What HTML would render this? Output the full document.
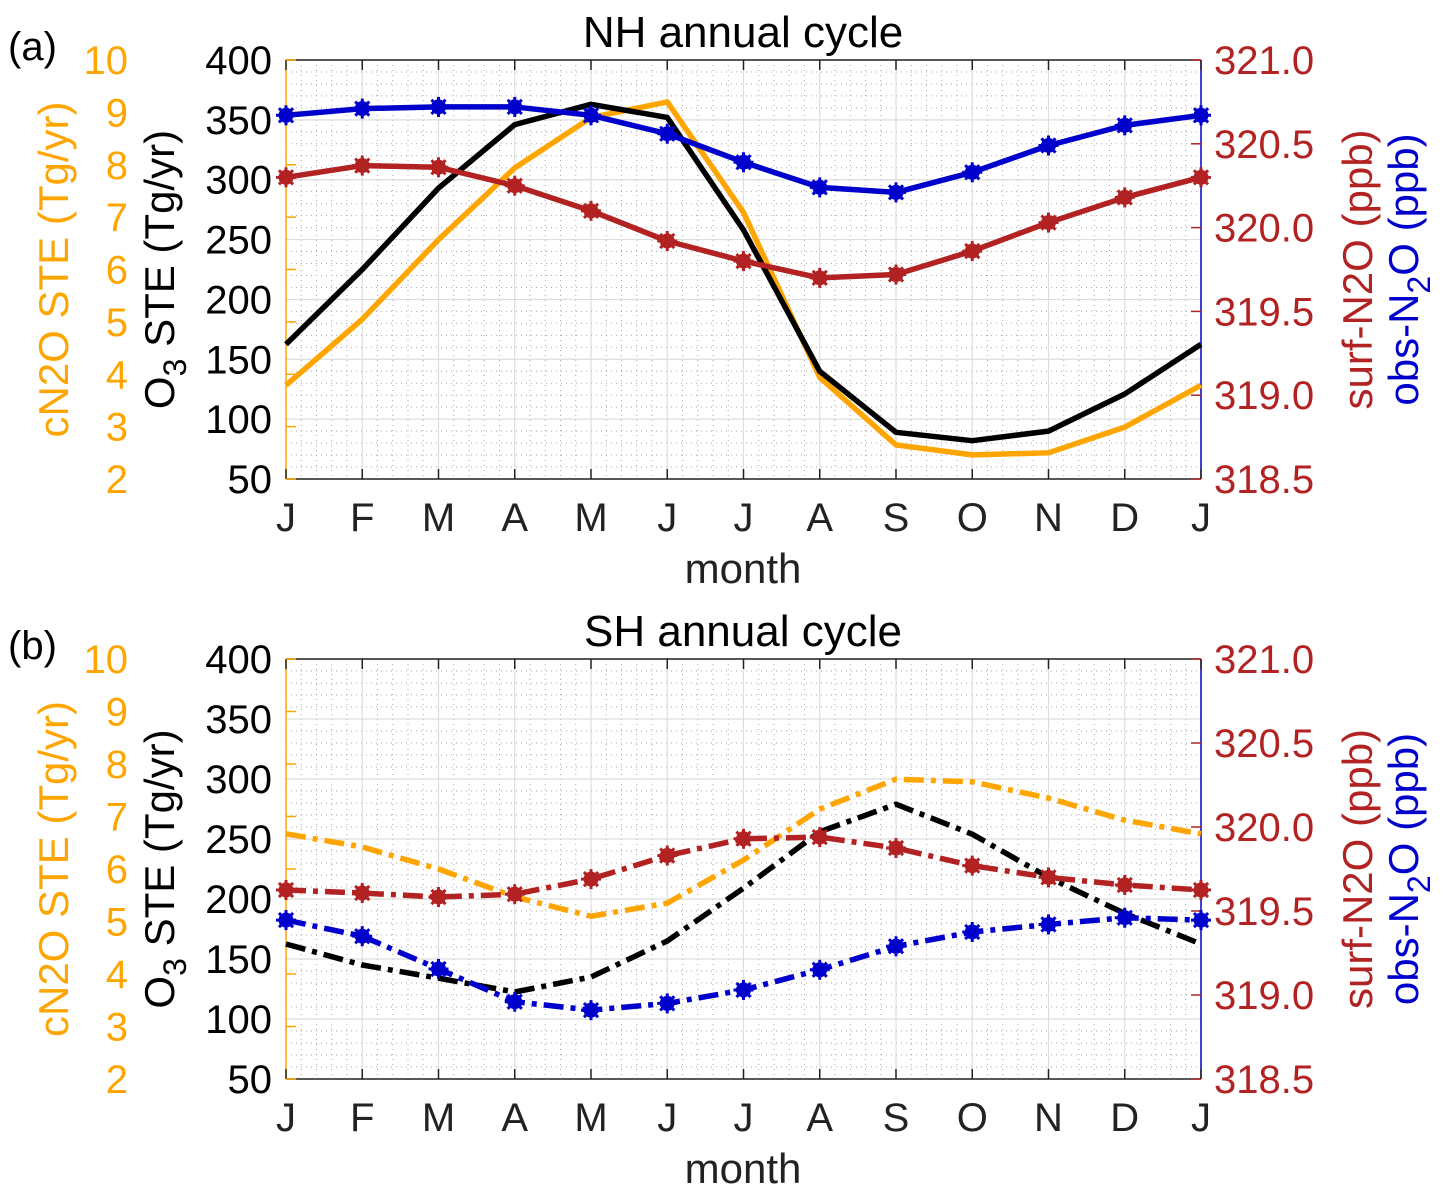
<!DOCTYPE html>
<html><head><meta charset="utf-8"><style>
body{margin:0;background:#fff;}
svg{display:block;font-family:"Liberation Sans",Arial,sans-serif;}
</style></head><body>
<svg id="chart" width="1451" height="1200" viewBox="0 0 1451 1200"></svg>
<script>
const months = ["J","F","M","A","M","J","J","A","S","O","N","D","J"];
const nhO3 = [162.5,225,293,346,363,352,258,140,89,82,90,121,162.5];
const nhCN2O = [3.79,5.05,6.57,7.94,8.9,9.2,7.09,3.94,2.65,2.46,2.5,2.99,3.79];
const nhSurf = [320.30,320.37,320.36,320.25,320.10,319.92,319.80,319.70,319.72,319.86,320.03,320.18,320.30];
const nhObs = [320.67,320.71,320.72,320.72,320.67,320.56,320.39,320.24,320.21,320.33,320.49,320.61,320.67];
const shO3 = [162.5,145,134,122.5,135,165,209,256,279,254,218,188,162.5];
const shCN2O = [6.67,6.42,6.0,5.47,5.10,5.35,6.17,7.14,7.71,7.66,7.35,6.93,6.67];
const shSurf = [319.625,319.607,319.583,319.60,319.69,319.83,319.93,319.94,319.875,319.77,319.70,319.655,319.625];
const shObs = [319.446,319.35,319.155,318.96,318.91,318.95,319.03,319.15,319.29,319.375,319.42,319.46,319.446];
const o3Ticks = [50,100,150,200,250,300,350,400];
const cTicks = [2,3,4,5,6,7,8,9,10];
const rTicks = ["318.5","319.0","319.5","320.0","320.5","321.0"];

const NS="http://www.w3.org/2000/svg";
const svg=document.getElementById('chart');
function mk(tag,attrs,parent,text){const e=document.createElementNS(NS,tag);for(const k in attrs)e.setAttribute(k,attrs[k]);if(text!==undefined)e.textContent=text;(parent||svg).appendChild(e);return e;}
const X0=286,X1=1201;
const ORANGE="#ffa500",RED="#b22222",BLUE="#0000cc";
const FS=40;

function panel(top,bot,title,tag,o3,cn,surf,obs,dashed,pname){
  const g=mk('g',{});
  
  
  const xs=i=>X0+(X1-X0)*i/(months.length-1);
  const yO=v=>top+(400-v)*(bot-top)/350;
  const yC=v=>top+(10-v)*(bot-top)/8;
  const yR=v=>top+(321-v)*(bot-top)/2.5;
  for(let i=0;i<12*5;i++){const x=X0+(X1-X0)*i/60;if(i%5)mk('line',{x1:x,x2:x,y1:top,y2:bot,stroke:'#aaa','stroke-width':1,'stroke-dasharray':'1 4'},g);}
  for(let v=50;v<400;v+=10){if(v%50){const y=yO(v);mk('line',{x1:X0,x2:X1,y1:y,y2:y,stroke:'#aaa','stroke-width':1,'stroke-dasharray':'1 4'},g);}}
  for(let i=1;i<12;i++){const x=xs(i);mk('line',{x1:x,x2:x,y1:top,y2:bot,stroke:'#ddd','stroke-width':1.2},g);}
  o3Ticks.forEach(v=>{const y=yO(v);mk('line',{x1:X0,x2:X1,y1:y,y2:y,stroke:'#ddd','stroke-width':1.2},g);});
  mk('line',{x1:X0,x2:X1,y1:top,y2:top,stroke:'#222','stroke-width':1.5},g);
  mk('line',{x1:X0,x2:X1,y1:bot,y2:bot,stroke:'#222','stroke-width':1.5},g);
  mk('line',{x1:X0,x2:X0,y1:top,y2:bot,stroke:ORANGE,'stroke-width':1.5},g);
  mk('line',{x1:X1,x2:X1,y1:top,y2:bot,stroke:BLUE,'stroke-width':1.5},g);
  months.forEach((m,i)=>{const x=xs(i);
    mk('line',{x1:x,x2:x,y1:bot,y2:bot-10,stroke:'#222','stroke-width':1.5},g);
    mk('line',{x1:x,x2:x,y1:top,y2:top+10,stroke:'#222','stroke-width':1.5},g);
    const t=mk('text',{x:x,y:bot+52,'text-anchor':'middle','font-size':FS,fill:'#222'},g,m);
    
    });
  o3Ticks.forEach(v=>{const y=yO(v);
    const t=mk('text',{x:272,y:y+14,'text-anchor':'end','font-size':FS,fill:'#000'},g,String(v));
    
    });
  cTicks.forEach(v=>{const y=yC(v);
    mk('line',{x1:X0,x2:X0+10,y1:y,y2:y,stroke:ORANGE,'stroke-width':1.5},g);
    const t=mk('text',{x:128,y:y+14,'text-anchor':'end','font-size':FS,fill:ORANGE},g,String(v));
    
    });
  rTicks.forEach(v=>{const y=yR(parseFloat(v));
    mk('line',{x1:X1,x2:X1-10,y1:y,y2:y,stroke:RED,'stroke-width':1.5},g);
    const t=mk('text',{x:1214,y:y+14,'text-anchor':'start','font-size':FS,fill:RED},g,v);
    
    });
  const cy=(top+bot)/2;
  let t=mk('text',{x:0,y:0,transform:`translate(68,${cy}) rotate(-90)`,'text-anchor':'middle','font-size':42,fill:ORANGE},g,'cN2O STE (Tg/yr)');
  
  t=mk('text',{x:0,y:0,transform:`translate(174,${cy}) rotate(-90)`,'text-anchor':'middle','font-size':42,fill:'#000'},g);
  
  mk('tspan',{},t,'O');mk('tspan',{dy:12,'font-size':32},t,'3');mk('tspan',{dy:-12},t,' STE (Tg/yr)');
  t=mk('text',{x:0,y:0,transform:`translate(1372,${cy}) rotate(-90)`,'text-anchor':'middle','font-size':42,fill:RED},g,'surf-N2O (ppb)');
  
  t=mk('text',{x:0,y:0,transform:`translate(1418,${cy}) rotate(-90)`,'text-anchor':'middle','font-size':42,fill:BLUE},g);
  
  mk('tspan',{},t,'obs-N');mk('tspan',{dy:12,'font-size':32},t,'2');mk('tspan',{dy:-12},t,'O (ppb)');
  t=mk('text',{x:743,y:top-13,'text-anchor':'middle','font-size':44,fill:'#000'},g,title);
  
  t=mk('text',{x:8,y:top,'font-size':40,fill:'#000'},g,tag);
  
  t=mk('text',{x:743,y:bot+104,'text-anchor':'middle','font-size':42,fill:'#222'},g,'month');
  
  const dash=dashed?'20 7 5 7':'none';
  function line(arr,fy,col,name,markers){
    const p=mk('polyline',{points:arr.map((v,i)=>xs(i)+','+fy(v)).join(' '),fill:'none',stroke:col,'stroke-width':5.5,'stroke-dasharray':dash,'stroke-linejoin':'round'},g);
    
    
    if(markers)arr.forEach((v,i)=>{const x=xs(i),y=fy(v);
      const c=mk('circle',{cx:x,cy:y,r:7.5,fill:col},g);
      
      
      for(let a=0;a<4;a++){const an=a*Math.PI/4;mk('line',{x1:x-10*Math.cos(an),y1:y-10*Math.sin(an),x2:x+10*Math.cos(an),y2:y+10*Math.sin(an),stroke:col,'stroke-width':3},g);}
    });
  }
  line(cn,yC,ORANGE,'cn2o-line',false);
  line(o3,yO,'#000','o3-line',false);
  line(surf,yR,RED,'surf-n2o-line',true);
  line(obs,yR,BLUE,'obs-n2o-line',true);
}
panel(60,479,'NH annual cycle','(a)',nhO3,nhCN2O,nhSurf,nhObs,false,'nh-panel');
panel(659,1079,'SH annual cycle','(b)',shO3,shCN2O,shSurf,shObs,true,'sh-panel');
</script>
</body></html>
